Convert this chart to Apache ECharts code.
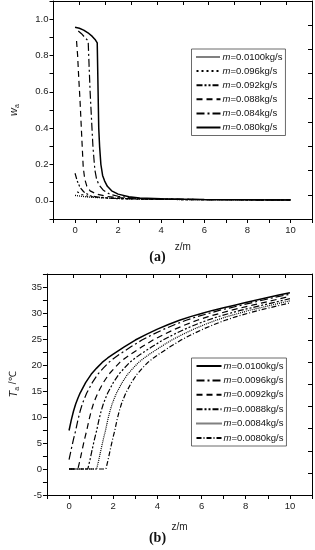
<!DOCTYPE html>
<html>
<head>
<meta charset="utf-8">
<script src="https://cdn.jsdelivr.net/npm/echarts@6/dist/echarts.min.js"></script>
<style>html,body{margin:0;padding:0;background:#fff}#c{width:315px;height:550px}</style>
</head>
<body>
<div id="c"></div>
<script>
// ---- Chart (a): w_a vs z ----
const namesA = ['m=0.0100kg/s','m=0.096kg/s','m=0.092kg/s','m=0.088kg/s','m=0.084kg/s','m=0.080kg/s'];
const a0100 = [[0,0.03],[0.5,0.022],[1,0.018],[2,0.013],[3,0.010],[5,0.007],[10,0.005]];
const a096 = [[0.1,0.05],[0.3,0.035],[0.6,0.025],[1,0.02],[1.5,0.015],[2,0.012],[3,0.009],[5,0.007],[10,0.005]];
const a092 = [[0,0.152],[0.1,0.11],[0.23,0.074],[0.4,0.05],[0.69,0.028],[1,0.022],[1.5,0.016],[2,0.013],[3,0.010],[5,0.007],[10,0.005]];
const a088 = [[0.07,0.88],[0.12,0.8],[0.17,0.68],[0.23,0.556],[0.3,0.38],[0.38,0.185],[0.45,0.12],[0.55,0.08],[0.7,0.055],[1.0,0.037],[1.5,0.024],[2,0.018],[3,0.012],[4,0.009],[6,0.007],[10,0.005]];
const a084 = [[0.15,0.935],[0.3,0.92],[0.45,0.9],[0.61,0.88],[0.65,0.75],[0.7,0.6],[0.76,0.46],[0.83,0.3],[0.92,0.17],[1.0,0.12],[1.1,0.09],[1.3,0.06],[1.6,0.037],[2,0.025],[2.5,0.018],[3,0.013],[4,0.010],[6,0.007],[10,0.005]];
const a080 = [[0,0.955],[0.2,0.95],[0.4,0.94],[0.6,0.925],[0.8,0.905],[0.95,0.885],[1.03,0.87],[1.07,0.6],[1.1,0.4],[1.14,0.3],[1.2,0.2],[1.28,0.14],[1.37,0.11],[1.5,0.08],[1.7,0.055],[2,0.037],[2.5,0.022],[3,0.016],[4,0.011],[5,0.009],[6,0.007],[8,0.006],[10,0.005]];

// ---- Chart (b): T_a vs z ----
const namesB = ['m=0.0100kg/s','m=0.0096kg/s','m=0.0092kg/s','m=0.0088kg/s','m=0.0084kg/s','m=0.0080kg/s'];
const b0100 = [[0,7.4],[0.1,9.4],[0.2,11.1],[0.3,12.5],[0.4,13.6],[0.5,14.6],[0.75,16.6],[1,18.2],[1.25,19.4],[1.5,20.5],[1.75,21.35],[2,22.1],[2.5,23.5],[3,24.8],[3.5,25.9],[4,26.9],[4.5,27.8],[5,28.6],[5.5,29.3],[6,29.9],[6.5,30.5],[7,31.0],[7.5,31.5],[8,32.0],[8.5,32.5],[9,33.0],[9.5,33.45],[10,33.9]];
const b0096 = [[0,1.8],[0.1,3.8],[0.2,5.7],[0.3,7.4],[0.4,9.4],[0.5,11.1],[0.6,12.5],[0.7,13.6],[0.8,14.6],[1.05,16.6],[1.3,18.2],[1.55,19.4],[1.8,20.5],[2.05,21.35],[2.3,22.1],[2.8,23.5],[3.3,24.8],[3.8,25.9],[4.3,26.9],[4.8,27.8],[5.3,28.6],[5.8,29.3],[6.3,29.9],[6.8,30.5],[7.3,31.0],[7.8,31.5],[8.3,32.0],[8.8,32.5],[9.3,33.0],[9.8,33.45],[10,33.6]];
const b0092 = [[0,0],[0.4,0],[0.5,1.8],[0.6,3.8],[0.7,5.7],[0.8,7.4],[0.9,9.4],[1.0,11.1],[1.1,12.5],[1.2,13.6],[1.3,14.6],[1.55,16.6],[1.8,18.2],[2.05,19.4],[2.3,20.5],[2.55,21.35],[2.8,22.1],[3.3,23.5],[3.8,24.8],[4.3,25.9],[4.8,26.9],[5.3,27.8],[5.8,28.6],[6.3,29.3],[6.8,29.9],[7.3,30.5],[7.8,31.0],[8.3,31.5],[8.8,32.0],[9.3,32.5],[9.8,33.0],[10,33.2]];
const b0088 = [[0,0],[0.85,0],[0.95,1.8],[1.05,3.8],[1.15,5.7],[1.25,7.4],[1.35,9.4],[1.45,11.1],[1.55,12.5],[1.65,13.6],[1.75,14.6],[2.0,16.6],[2.25,18.2],[2.5,19.4],[2.75,20.5],[3.0,21.35],[3.25,22.1],[3.75,23.5],[4.25,24.8],[4.75,25.9],[5.25,26.9],[5.75,27.8],[6.25,28.6],[6.75,29.3],[7.25,29.9],[7.75,30.5],[8.25,31.0],[8.75,31.5],[9.25,32.0],[9.75,32.5],[10,32.75]];
const b0084 = [[0,0],[1.25,0],[1.35,1.8],[1.45,3.8],[1.55,5.7],[1.65,7.4],[1.75,9.4],[1.85,11.1],[1.95,12.5],[2.05,13.6],[2.15,14.6],[2.4,16.6],[2.65,18.2],[2.9,19.4],[3.15,20.5],[3.4,21.35],[3.65,22.1],[4.15,23.5],[4.65,24.8],[5.15,25.9],[5.65,26.9],[6.15,27.8],[6.65,28.6],[7.15,29.3],[7.65,29.9],[8.15,30.5],[8.65,31.0],[9.15,31.5],[9.65,32.0],[10,32.35]];
const b0080 = [[0,0],[1.67,0],[1.77,1.8],[1.87,3.8],[1.97,5.7],[2.07,7.4],[2.17,9.4],[2.27,11.1],[2.37,12.5],[2.47,13.6],[2.57,14.6],[2.82,16.6],[3.07,18.2],[3.32,19.4],[3.57,20.5],[3.82,21.35],[4.07,22.1],[4.57,23.5],[5.07,24.8],[5.57,25.9],[6.07,26.9],[6.57,27.8],[7.07,28.6],[7.57,29.3],[8.07,29.9],[8.57,30.5],[9.07,31.0],[9.57,31.5],[10,31.95]];

const xTickLabels = ['0','2','4','6','8','10'];

const FONT = 'Arial';
const chart = echarts.init(document.getElementById('c'), null, {renderer:'canvas'});

const DOT = [1,1], SDOT = [2,3], DASH = [6,4], DD = [8,3,2,3], DDD = [6,2,2,2,2,2], DDs = [5,2,1,2];
const stylesA = [[DOT,1.3],[SDOT,1.2],[DDD,1.2],[DASH,1.2],[DD,1.2],['solid',1.5]];
const stylesB = [['solid',1.5],[DD,1.2],[DASH,1.2],[DDD,1.2],[DOT,1.2],[DDs,1.2]];
const dataA = [a0100,a096,a092,a088,a084,a080];
const dataB = [b0100,b0096,b0092,b0088,b0084,b0080];

function xFmt(v){ const s=String(Math.round(v)); return xTickLabels.indexOf(s)>=0 && Math.abs(v-Math.round(v))<1e-6 ? s : ''; }

const axisCommon = {
  axisLine:{show:true,onZero:false,lineStyle:{color:'#000',width:1}},
  splitLine:{show:false},
  axisLabel:{color:'#222',fontSize:9.5,fontFamily:FONT},
  nameTextStyle:{color:'#222',fontSize:10,fontFamily:FONT}
};
function mainX(grid,min,max,gap){
  return Object.assign({}, axisCommon, {type:'value',gridIndex:grid,position:'bottom',min:min,max:max,interval:1,
    axisTick:{show:true,inside:false,length:4,lineStyle:{color:'#000'}},
    axisLabel:Object.assign({},axisCommon.axisLabel,{margin:6,formatter:xFmt}),
    name:'z/m',nameLocation:'middle',nameGap:gap});
}
function topX(grid){
  return {type:'value',gridIndex:grid,position:'top',min:0,max:10,interval:1,
    axisLine:{show:true,onZero:false,lineStyle:{color:'#000'}},axisTick:{show:true,inside:true,length:4,lineStyle:{color:'#000'}},
    axisLabel:{show:false},splitLine:{show:false}};
}
function rightY(grid,max){
  return {type:'value',gridIndex:grid,position:'right',min:0,max:max,interval:1,
    axisLine:{show:true,onZero:false,lineStyle:{color:'#000'}},axisTick:{show:true,inside:true,length:4,lineStyle:{color:'#000'}},
    axisLabel:{show:false},splitLine:{show:false}};
}

const rich = {
  i:{fontStyle:'italic',fontSize:11,fontFamily:FONT,color:'#222',lineHeight:14,verticalAlign:'middle'},
  s:{fontSize:7,fontFamily:FONT,color:'#222',lineHeight:14,verticalAlign:'bottom',padding:[4,0,0,0]},
  n:{fontSize:10,fontFamily:FONT,color:'#222',lineHeight:14,verticalAlign:'middle'}
};
const legRich = {
  i:{fontStyle:'italic',fontSize:9.5,fontFamily:FONT,color:'#111'},
  t:{fontSize:9.5,fontFamily:FONT,color:'#111'}
};
function legFmt(n){ return '{i|m}{t|' + n.trim().slice(1) + '}'; }

const series = [];
namesA.forEach((n,i)=>series.push({name:n,type:'line',xAxisIndex:0,yAxisIndex:0,data:dataA[i],symbol:'none',
  lineStyle:{color:'#000',width:stylesA[i][1],type:stylesA[i][0]},itemStyle:{color:'#000'},silent:true,animation:false}));
namesB.forEach((n,i)=>series.push({name:n+' ',type:'line',xAxisIndex:2,yAxisIndex:2,data:dataB[i],symbol:'none',
  lineStyle:{color:'#000',width:stylesB[i][1],type:stylesB[i][0]},itemStyle:{color:'#000'},silent:true,animation:false}));

const legCommon = {orient:'vertical',itemHeight:8,padding:[3,3,3,4],borderColor:'#444',borderWidth:0.8,
  backgroundColor:'#fff',selectedMode:false,formatter:legFmt,
  itemStyle:{opacity:0,borderWidth:0},
  textStyle:{rich:legRich,padding:[0,0,0,-3]}};

const option = {
  animation:false,
  backgroundColor:'#fff',
  textStyle:{fontFamily:FONT},
  grid:[
    {left:50,top:1,width:262,height:218,containLabel:false},
    {left:43.5,top:274,width:268.5,height:221,containLabel:false}
  ],
  xAxis:[ mainX(0,-1,11,23), topX(0), mainX(1,-1,11,27), topX(1) ],
  yAxis:[
    Object.assign({}, axisCommon, {type:'value',gridIndex:0,position:'left',min:-0.1,max:1.1,interval:0.1,
      axisTick:{show:true,length:4,lineStyle:{color:'#000'}},
      axisLabel:Object.assign({},axisCommon.axisLabel,{margin:5,formatter:function(v){const r=Math.round(v*10);return (r>=0&&r%2===0)?(r/10).toFixed(1):'';}}),
      name:'{i|w}{s|a}',nameLocation:'middle',nameRotate:90,nameGap:33,nameTextStyle:{rich:rich}}),
    rightY(0,9),
    Object.assign({}, axisCommon, {type:'value',gridIndex:1,position:'left',min:-5,max:37.5,interval:2.5,
      axisTick:{show:true,length:4,lineStyle:{color:'#000'}},
      axisLabel:Object.assign({},axisCommon.axisLabel,{margin:5,formatter:function(v){return (Math.abs(v%5)<1e-6)?String(v):'';}}),
      name:'{i|T}{s|a}{n| /℃}',nameLocation:'middle',nameRotate:90,nameGap:26,nameTextStyle:{rich:rich}}),
    rightY(1,10)
  ],
  legend:[
    Object.assign({}, legCommon, {data:namesA,left:191.5,top:49,itemWidth:24,itemGap:4.1}),
    Object.assign({}, legCommon, {data:namesB.map(n=>n+' '),left:191.5,top:358,itemWidth:25,itemGap:4.4})
  ],
  graphic:[
    {type:'text',left:'center',top:250,style:{text:'(a)',font:'bold 14px "Liberation Serif", serif',fill:'#111'}},
    {type:'text',left:'center',top:531,style:{text:'(b)',font:'bold 14px "Liberation Serif", serif',fill:'#111'}}
  ],
  series:series
};
chart.setOption(option);
</script>
</body>
</html>
